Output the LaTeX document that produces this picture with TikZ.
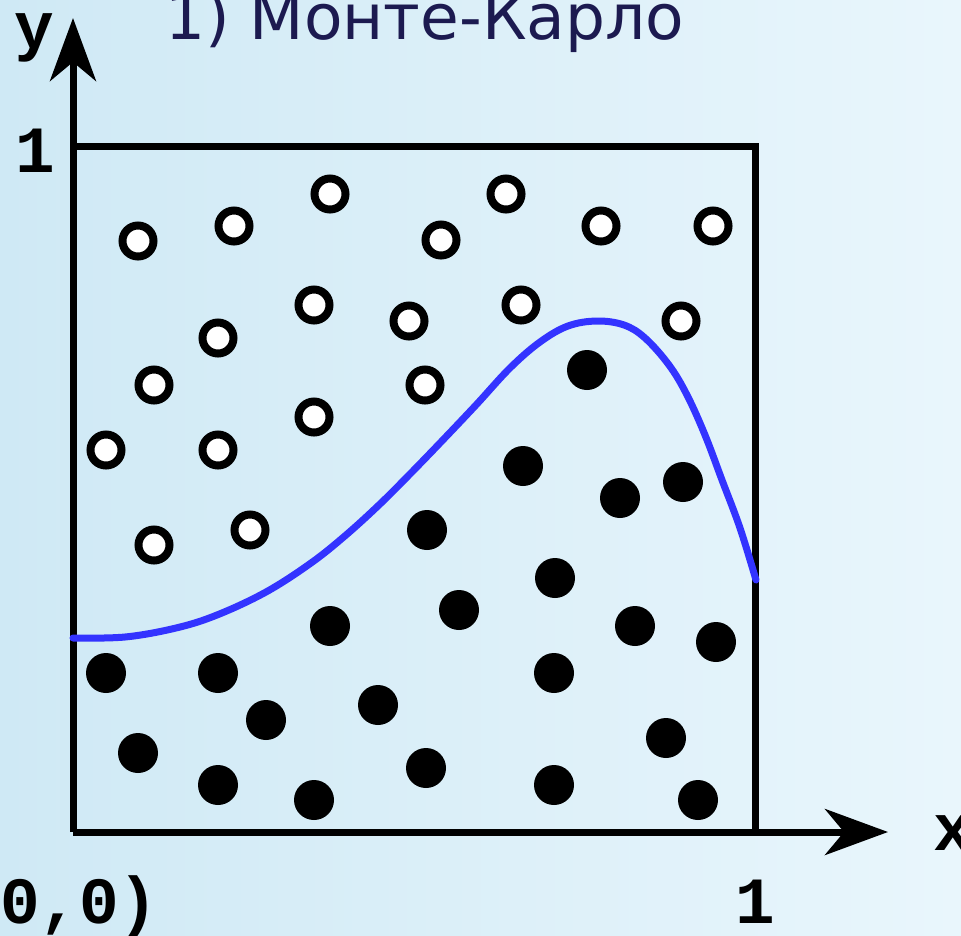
\documentclass[tikz,border=0pt]{standalone}
\usepackage{fontspec}
\usetikzlibrary{arrows.meta}
\newfontfamily\monofont{Liberation Mono}
\newfontfamily\titlefont{DejaVu Sans}
\definecolor{bgL}{HTML}{CFE9F5}
\definecolor{bgM}{HTML}{E3F4FB}
\definecolor{bgR}{HTML}{E9F6FC}
\definecolor{curveblue}{HTML}{3333FF}
\definecolor{titlecol}{HTML}{1C1A50}
\tikzset{
  axislabel/.style={font=\monofont\bfseries\fontsize{66}{70}\selectfont, inner sep=0pt, text=black},
  axisline/.style={line width=7pt, -{Stealth[length=63pt, width=46pt, inset=19pt]}},
  boxline/.style={line width=7pt},
  hollowdot/.style={circle, draw=black, fill=white, line width=8pt, minimum size=31pt, inner sep=0pt},
  filleddot/.style={circle, fill=black, minimum size=40pt, inner sep=0pt},
  fcurve/.style={curveblue, line width=7pt, line cap=round, line join=round}
}
\begin{document}
\begin{tikzpicture}[x=1pt, y=-1pt]
\useasboundingbox (0,0) rectangle (961,935);
\shade[left color=bgL, middle color=bgM, right color=bgR] (0,0) rectangle (961,935);
% title
\node[anchor=base west, inner sep=0pt, text=titlecol, font=\titlefont\fontsize{63}{70}\selectfont] (title) at (165,39) {1) Монте-Карло};
% box and axes
\coordinate (O) at (73,832);
\coordinate (TL) at (73,146);
\coordinate (TR) at (755,146);
\coordinate (BR) at (755,832);
\coordinate (ytip) at (73,18);
\coordinate (xtip) at (888,832);
\draw[boxline] (TL) -- (TR) -- (BR);
\draw[axisline] (O) -- (ytip);
\draw[axisline] (O) -- (xtip);
% labels
\node[axislabel, anchor=base] (ylab) at (34,48) {y};
\node[axislabel, anchor=base] (xlab) at (953,850) {x};
\node[axislabel, anchor=base] (one1) at (35,172) {1};
\node[axislabel, anchor=base] (one2) at (755,923) {1};
\node[axislabel, anchor=base west] (orig) at (0,923) {0,0)};
% curve
\draw[fcurve] plot[smooth, tension=0.6] coordinates {(73,638) (125,637) (176,628) (217,615) (266,592) (311,563) (346,535) (380,504) (410,474) (440,443) (476,405) (510,368) (540,342) (568,326) (597,321) (624,325) (645,338) (669,365) (687,395) (705,435) (722,480) (740,528) (756,580)};
% hollow points
\foreach \x/\y [count=\i] in {138/241, 234/226, 330/194, 441/240, 506/194, 601/226, 713/226, 218/338, 314/305, 409/321, 521/305, 681/321, 154/385, 425/385, 106/450, 218/450, 314/417, 154/545, 250/530}
  \node[hollowdot] (h\i) at (\x,\y) {};
% filled points
\foreach \x/\y [count=\i] in {587/370, 523/466, 620/498, 683/482, 427/530, 555/578, 459/610, 330/626, 635/626, 716/642, 106/673, 218/673, 554/673, 266/720, 378/705, 666/738, 138/753, 218/785, 314/800, 426/768, 554/785, 698/800}
  \node[filleddot] (f\i) at (\x,\y) {};
\end{tikzpicture}
\end{document}
